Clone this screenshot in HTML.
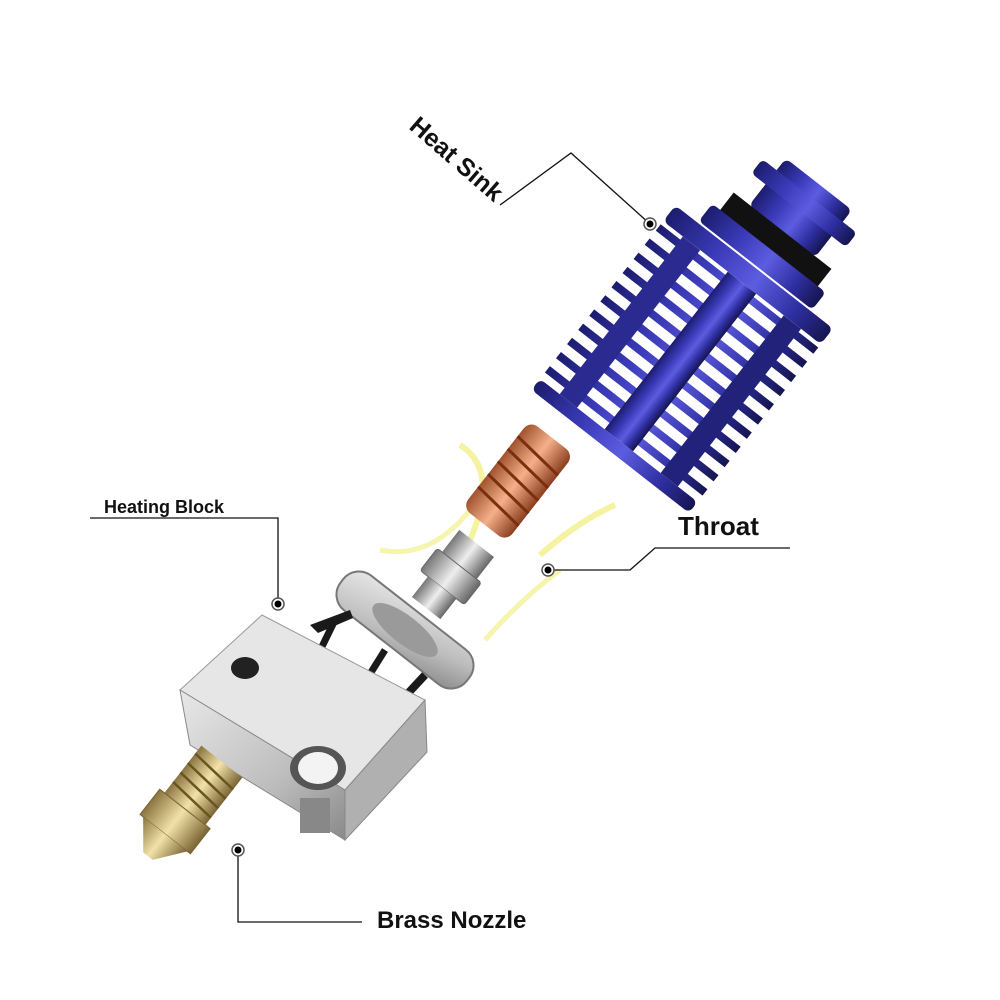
<!DOCTYPE html>
<html><head><meta charset="utf-8"><style>
html,body{margin:0;padding:0;background:#fff;}
svg{display:block}
text{font-family:"Liberation Sans",sans-serif;font-weight:bold;fill:#111}
</style></head><body>
<svg width="1000" height="1000" viewBox="0 0 1000 1000" xmlns="http://www.w3.org/2000/svg">
<defs>
<linearGradient id="blue" x1="0" x2="1" y1="0" y2="0">
<stop offset="0" stop-color="#1c1c6e"/><stop offset="0.3" stop-color="#3a3ab8"/><stop offset="0.55" stop-color="#5c5ce0"/><stop offset="0.8" stop-color="#2e2ea0"/><stop offset="1" stop-color="#15154f"/></linearGradient>
<linearGradient id="cu" x1="0" x2="1"><stop offset="0" stop-color="#a0522d"/><stop offset="0.5" stop-color="#f4b08a"/><stop offset="1" stop-color="#8b3e1e"/></linearGradient>
<linearGradient id="steel" x1="0" x2="1"><stop offset="0" stop-color="#777"/><stop offset="0.5" stop-color="#eee"/><stop offset="1" stop-color="#666"/></linearGradient>
<linearGradient id="brass" x1="0" x2="1"><stop offset="0" stop-color="#8a7440"/><stop offset="0.5" stop-color="#f2e2a8"/><stop offset="1" stop-color="#7a6434"/></linearGradient>
<linearGradient id="alu" x1="0" x2="1" y1="0" y2="1"><stop offset="0" stop-color="#e8e8e8"/><stop offset="0.6" stop-color="#bdbdbd"/><stop offset="1" stop-color="#8a8a8a"/></linearGradient>
</defs>

<!-- Heat sink -->
<g transform="translate(705,330) rotate(38)">
<rect x="-42" y="-185" width="84" height="60" rx="6" fill="url(#blue)"/>
<rect x="-60" y="-170" width="120" height="18" rx="5" fill="url(#blue)"/>
<rect x="-62" y="-126" width="124" height="24" fill="#111"/>
<rect x="-72" y="-104" width="144" height="22" rx="5" fill="url(#blue)"/>
<rect x="-100" y="-80" width="200" height="20" rx="6" fill="url(#blue)"/>
<rect x="-90" y="-60" width="180" height="200" fill="#fff"/>
<g fill="url(#blue)">
<rect x="-100" y="-56" width="200" height="8"/><rect x="-100" y="-38" width="200" height="8"/><rect x="-100" y="-20" width="200" height="8"/>
<rect x="-100" y="-2" width="200" height="8"/><rect x="-100" y="16" width="200" height="8"/><rect x="-100" y="34" width="200" height="8"/>
<rect x="-100" y="52" width="200" height="8"/><rect x="-100" y="70" width="200" height="8"/><rect x="-100" y="88" width="200" height="8"/>
<rect x="-100" y="106" width="200" height="8"/><rect x="-100" y="124" width="200" height="8"/>
</g>
<rect x="-75" y="-60" width="22" height="200" fill="#2a2a90"/>
<rect x="53" y="-60" width="22" height="200" fill="#22227a"/>
<rect x="-18" y="-60" width="36" height="200" fill="url(#blue)"/>
<rect x="-100" y="140" width="200" height="14" rx="6" fill="url(#blue)"/>
</g>

<!-- glow arcs -->
<path d="M460 445 Q500 470 470 540" stroke="#f3f08a" stroke-width="6" fill="none" opacity="0.8"/>
<path d="M380 550 Q430 560 470 510" stroke="#f3f08a" stroke-width="5" fill="none" opacity="0.7"/>
<path d="M540 555 Q580 520 615 505" stroke="#f3f08a" stroke-width="6" fill="none" opacity="0.8"/>
<path d="M485 640 Q520 600 560 570" stroke="#f3f08a" stroke-width="5" fill="none" opacity="0.7"/>

<!-- Throat copper -->
<g transform="translate(515,485) rotate(38)">
<rect x="-28" y="-60" width="56" height="110" rx="10" fill="url(#cu)"/>
<g stroke="#7a3010" stroke-width="3">
<line x1="-28" y1="-40" x2="28" y2="-34"/><line x1="-28" y1="-24" x2="28" y2="-18"/><line x1="-28" y1="-8" x2="28" y2="-2"/>
<line x1="-28" y1="8" x2="28" y2="14"/><line x1="-28" y1="24" x2="28" y2="30"/></g>
</g>
<!-- steel connector -->
<g transform="translate(452,575) rotate(38)">
<rect x="-22" y="-40" width="44" height="30" fill="url(#steel)"/>
<rect x="-28" y="-12" width="56" height="28" rx="3" fill="url(#steel)" stroke="#666"/>
<rect x="-18" y="16" width="36" height="26" fill="url(#steel)"/>
</g>

<!-- heater disc -->
<g transform="translate(405,630) rotate(38)">
<rect x="-80" y="-22" width="160" height="44" rx="20" fill="url(#alu)" stroke="#777" stroke-width="2"/>
<ellipse cx="0" cy="0" rx="40" ry="14" fill="#9a9a9a"/>
</g>

<!-- screws -->
<g fill="#1a1a1a">
<path d="M310 625 L350 610 L353 618 L318 633 Z"/><line x1="335" y1="620" x2="313" y2="665" stroke="#1a1a1a" stroke-width="7"/>
<line x1="385" y1="650" x2="360" y2="690" stroke="#1a1a1a" stroke-width="7"/>
<line x1="425" y1="675" x2="385" y2="718" stroke="#1a1a1a" stroke-width="8"/>
</g>

<!-- heating block -->
<g>
<path d="M180 690 L262 615 L425 700 L345 790 Z" fill="#e6e6e6" stroke="#999"/>
<path d="M180 690 L345 790 L345 840 L190 745 Z" fill="url(#alu)" stroke="#888"/>
<path d="M345 790 L425 700 L427 752 L345 840 Z" fill="#b0b0b0" stroke="#888"/>
<ellipse cx="245" cy="668" rx="14" ry="11" fill="#222"/>
<ellipse cx="318" cy="768" rx="28" ry="22" fill="#555"/>
<ellipse cx="318" cy="768" rx="20" ry="16" fill="#f3f3f3"/>
<rect x="300" y="798" width="30" height="35" fill="#888"/>
</g>

<!-- brass nozzle -->
<g transform="translate(188,805) rotate(38)">
<rect x="-26" y="-55" width="52" height="60" fill="url(#brass)"/>
<g stroke="#6a5420" stroke-width="2.5">
<line x1="-26" y1="-45" x2="26" y2="-40"/><line x1="-26" y1="-33" x2="26" y2="-28"/><line x1="-26" y1="-21" x2="26" y2="-16"/><line x1="-26" y1="-9" x2="26" y2="-4"/></g>
<rect x="-32" y="5" width="64" height="32" fill="url(#brass)" stroke="#7a6434"/>
<path d="M-28 37 L28 37 L6 65 L-6 65 Z" fill="url(#brass)"/>
</g>

<!-- leader lines -->
<g stroke="#111" stroke-width="1.3" fill="none">
<polyline points="500,205 571,153 650,224"/>
<polyline points="90,518 278,518 278,604"/>
<polyline points="790,548 655,548 630,570 548,570"/>
<polyline points="362,922 238,922 238,850"/>
</g>
<g>
<circle cx="650" cy="224" r="6" fill="#fff" stroke="#555" stroke-width="1.5"/><circle cx="650" cy="224" r="3.5" fill="#000"/>
<circle cx="278" cy="604" r="6" fill="#fff" stroke="#555" stroke-width="1.5"/><circle cx="278" cy="604" r="3.5" fill="#000"/>
<circle cx="548" cy="570" r="6" fill="#fff" stroke="#555" stroke-width="1.5"/><circle cx="548" cy="570" r="3.5" fill="#000"/>
<circle cx="238" cy="850" r="6" fill="#fff" stroke="#555" stroke-width="1.5"/><circle cx="238" cy="850" r="3.5" fill="#000"/>
</g>

<text x="0" y="0" font-size="25" transform="translate(408,128) rotate(41)">Heat Sink</text>
<text x="104" y="513" font-size="18" style="font-weight:600">Heating Block</text>
<text x="678" y="535" font-size="26">Throat</text>
<text x="377" y="928" font-size="24">Brass Nozzle</text>
</svg>
</body></html>
